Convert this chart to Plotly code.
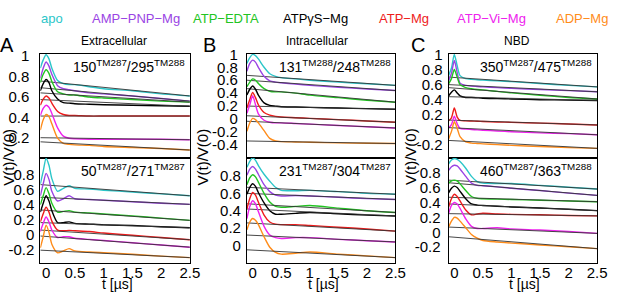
import plotly.graph_objects as go

W, H = 617, 292

species = ["apo", "AMP−PNP−Mg", "ATP−EDTA", "ATPγS−Mg", "ATP−Mg", "ATP−Vi−Mg", "ADP−Mg"]
colors = ["#2cc6c9", "#9a44e4", "#22c422", "#000000", "#ee1c1c", "#ee22ee", "#ff8c1a"]

# time samples (µs) for the data traces; fits given at start/end
t = [-0.1, -0.05, 0, 0.05, 0.1, 0.2, 0.3, 0.4, 0.5, 0.75, 1.0, 1.5, 2.0, 2.5]
t_fit = [-0.1, 2.5]

# ---- Panel A, top: 150TM287/295TM288 ----
a_top = [
    [0.88, 0.96, 1.01, 0.97, 0.88, 0.76, 0.73, 0.72, 0.72, 0.70, 0.68, 0.66, 0.63, 0.61],
    [0.78, 0.88, 0.94, 0.90, 0.82, 0.71, 0.68, 0.67, 0.66, 0.64, 0.63, 0.61, 0.585, 0.56],
    [0.74, 0.82, 0.865, 0.83, 0.75, 0.65, 0.63, 0.62, 0.62, 0.60, 0.59, 0.575, 0.56, 0.55],
    [0.66, 0.73, 0.77, 0.74, 0.66, 0.58, 0.545, 0.54, 0.535, 0.53, 0.525, 0.52, 0.515, 0.51],
    [0.52, 0.58, 0.61, 0.59, 0.54, 0.46, 0.43, 0.42, 0.42, 0.415, 0.415, 0.415, 0.415, 0.415],
    [0.42, 0.49, 0.52, 0.50, 0.44, 0.30, 0.22, 0.20, 0.195, 0.19, 0.19, 0.19, 0.19, 0.185],
    [0.28, 0.38, 0.43, 0.41, 0.34, 0.20, 0.15, 0.14, 0.135, 0.13, 0.12, 0.11, 0.10, 0.085],
]
a_top_fit = [[0.755, 0.61], [0.69, 0.56], [0.64, 0.55], [0.575, 0.51], [0.415, 0.415], [0.205, 0.185], [0.165, 0.085]]

# ---- Panel A, bottom: 50TM287/271TM287 ----
a_bot = [
    [0.68, 0.85, 1.02, 0.93, 0.75, 0.58, 0.62, 0.655, 0.62, 0.61, 0.595, 0.57, 0.545, 0.52],
    [0.52, 0.68, 0.82, 0.74, 0.58, 0.45, 0.48, 0.52, 0.48, 0.47, 0.46, 0.44, 0.42, 0.405],
    [0.40, 0.52, 0.63, 0.55, 0.42, 0.30, 0.31, 0.32, 0.30, 0.29, 0.275, 0.25, 0.22, 0.19],
    [0.30, 0.42, 0.52, 0.45, 0.32, 0.16, 0.16, 0.17, 0.15, 0.14, 0.13, 0.12, 0.105, 0.09],
    [0.17, 0.28, 0.365, 0.30, 0.18, 0.06, 0.05, 0.055, 0.05, 0.04, 0.02, -0.01, -0.04, -0.07],
    [0.04, 0.15, 0.235, 0.17, 0.06, -0.04, -0.03, -0.03, -0.05, -0.065, -0.08, -0.11, -0.14, -0.17],
    [-0.18, -0.03, 0.126, 0.03, -0.13, -0.245, -0.22, -0.19, -0.22, -0.235, -0.245, -0.265, -0.29, -0.31],
]
a_bot_fit = [[0.67, 0.52], [0.50, 0.405], [0.33, 0.19], [0.16, 0.09], [0.06, -0.07], [-0.02, -0.17], [-0.21, -0.31]]

# ---- Panel B, top: 131TM288/248TM288 ----
b_top = [
    [0.86, 0.95, 1.0, 0.98, 0.93, 0.80, 0.70, 0.66, 0.64, 0.62, 0.60, 0.57, 0.545, 0.52],
    [0.74, 0.86, 0.91, 0.88, 0.80, 0.66, 0.59, 0.57, 0.56, 0.54, 0.52, 0.49, 0.465, 0.44],
    [0.50, 0.57, 0.62, 0.60, 0.55, 0.47, 0.43, 0.42, 0.42, 0.40, 0.37, 0.33, 0.29, 0.26],
    [0.37, 0.46, 0.51, 0.46, 0.37, 0.25, 0.21, 0.20, 0.19, 0.185, 0.18, 0.17, 0.16, 0.15],
    [0.17, 0.30, 0.41, 0.33, 0.22, 0.10, 0.06, 0.04, 0.03, 0.02, 0.01, -0.01, -0.03, -0.05],
    [0.09, 0.22, 0.36, 0.22, 0.08, -0.02, -0.05, -0.06, -0.06, -0.07, -0.08, -0.10, -0.12, -0.14],
    [-0.19, -0.06, 0.01, -0.01, -0.06, -0.18, -0.30, -0.34, -0.35, -0.355, -0.36, -0.37, -0.375, -0.38],
]
b_top_fit = [[0.675, 0.52], [0.60, 0.44], [0.47, 0.26], [0.20, 0.15], [0.05, -0.05], [-0.035, -0.14], [-0.34, -0.38]]

# ---- Panel B, bottom: 231TM287/304TM287 ----
b_bot = [
    [0.90, 0.97, 1.01, 0.98, 0.92, 0.82, 0.74, 0.67, 0.635, 0.63, 0.635, 0.62, 0.60, 0.59],
    [0.81, 0.88, 0.91, 0.88, 0.82, 0.70, 0.62, 0.58, 0.57, 0.575, 0.57, 0.555, 0.54, 0.53],
    [0.70, 0.78, 0.815, 0.79, 0.73, 0.60, 0.50, 0.45, 0.44, 0.45, 0.46, 0.43, 0.40, 0.38],
    [0.59, 0.67, 0.71, 0.68, 0.61, 0.49, 0.40, 0.36, 0.36, 0.37, 0.38, 0.365, 0.35, 0.34],
    [0.42, 0.54, 0.61, 0.58, 0.50, 0.35, 0.27, 0.245, 0.24, 0.24, 0.23, 0.21, 0.19, 0.165],
    [0.31, 0.45, 0.515, 0.48, 0.39, 0.22, 0.12, 0.09, 0.08, 0.09, 0.09, 0.07, 0.055, 0.04],
    [0.18, 0.27, 0.31, 0.29, 0.24, 0.10, -0.02, -0.08, -0.10, -0.09, -0.075, -0.10, -0.12, -0.14],
]
b_bot_fit = [[0.67, 0.59], [0.60, 0.53], [0.48, 0.38], [0.42, 0.34], [0.26, 0.165], [0.12, 0.04], [-0.05, -0.14]]

# ---- Panel C, top: 350TM287/475TM288 ----
c_top = [
    [0.72, 0.82, 1.0, 0.85, 0.72, 0.68, 0.67, 0.665, 0.66, 0.65, 0.64, 0.615, 0.59, 0.57],
    [0.65, 0.75, 0.92, 0.76, 0.62, 0.59, 0.58, 0.575, 0.57, 0.56, 0.55, 0.535, 0.52, 0.505],
    [0.61, 0.68, 0.80, 0.70, 0.60, 0.56, 0.545, 0.535, 0.53, 0.51, 0.49, 0.46, 0.43, 0.41],
    [0.45, 0.50, 0.53, 0.49, 0.45, 0.43, 0.43, 0.425, 0.42, 0.415, 0.41, 0.40, 0.395, 0.39],
    [0.12, 0.16, 0.29, 0.17, 0.125, 0.12, 0.118, 0.115, 0.112, 0.105, 0.10, 0.09, 0.078, 0.065],
    [0.025, 0.07, 0.18, 0.08, 0.02, 0.01, 0.005, 0.0, -0.005, -0.015, -0.025, -0.04, -0.05, -0.065],
    [-0.12, -0.02, 0.107, 0.02, -0.09, -0.16, -0.175, -0.18, -0.185, -0.195, -0.205, -0.22, -0.235, -0.245],
]
c_top_fit = [[0.70, 0.57], [0.60, 0.505], [0.56, 0.41], [0.44, 0.39], [0.13, 0.065], [0.03, -0.065], [-0.14, -0.245]]

# ---- Panel C, bottom: 460TM287/363TM288 ----
c_bot = [
    [0.92, 0.97, 0.99, 0.98, 0.95, 0.86, 0.75, 0.68, 0.66, 0.655, 0.655, 0.63, 0.605, 0.58],
    [0.83, 0.88, 0.90, 0.89, 0.85, 0.75, 0.66, 0.63, 0.625, 0.61, 0.59, 0.56, 0.525, 0.495],
    [0.66, 0.69, 0.70, 0.69, 0.65, 0.56, 0.48, 0.455, 0.45, 0.445, 0.44, 0.43, 0.42, 0.41],
    [0.53, 0.59, 0.62, 0.60, 0.55, 0.45, 0.38, 0.365, 0.36, 0.35, 0.34, 0.325, 0.31, 0.29],
    [0.34, 0.45, 0.51, 0.48, 0.42, 0.30, 0.235, 0.245, 0.255, 0.245, 0.24, 0.235, 0.225, 0.22],
    [0.25, 0.36, 0.40, 0.38, 0.32, 0.18, 0.08, 0.05, 0.05, 0.06, 0.045, 0.03, 0.01, -0.015],
    [0.07, 0.15, 0.20, 0.19, 0.15, 0.06, -0.03, -0.08, -0.11, -0.13, -0.145, -0.17, -0.195, -0.22],
]
c_bot_fit = [[0.70, 0.58], [0.665, 0.495], [0.47, 0.41], [0.38, 0.29], [0.25, 0.22], [0.07, -0.015], [-0.06, -0.22]]

labels = [
    "150<sup>TM287</sup>/295<sup>TM288</sup>",
    "50<sup>TM287</sup>/271<sup>TM287</sup>",
    "131<sup>TM288</sup>/248<sup>TM288</sup>",
    "231<sup>TM287</sup>/304<sup>TM287</sup>",
    "350<sup>TM287</sup>/475<sup>TM288</sup>",
    "460<sup>TM287</sup>/363<sup>TM288</sup>",
]
x_ticks = [0, 0.5, 1, 1.5, 2, 2.5]
x_ticktext = ["0", "0.5", "1", "1.5", "2", "2.5"]

FONT = "Liberation Sans, Arial, sans-serif"

# pixel geometry
cols_px = [(41, 193), (251, 402), (456, 607)]
rows_px = [(47, 154), (154, 262)]
yranges = [[0.01, 1.02], [-0.38, 1.03], [-0.6, 1.01], [-0.2, 1.01], [-0.37, 1.01], [-0.41, 1.0]]
yticks = [
    [0.2, 0.4, 0.6, 0.8, 1],
    [-0.2, 0, 0.2, 0.4, 0.6, 0.8],
    [-0.4, -0.2, 0, 0.2, 0.4, 0.6, 0.8, 1],
    [0, 0.2, 0.4, 0.6, 0.8],
    [-0.2, 0, 0.2, 0.4, 0.6, 0.8, 1],
    [-0.2, 0, 0.2, 0.4, 0.6, 0.8],
]
standoff = [7, 2, 5, 2, 2, 4]
datasets = [(a_top, a_top_fit), (a_bot, a_bot_fit), (b_top, b_top_fit),
            (b_bot, b_bot_fit), (c_top, c_top_fit), (c_bot, c_bot_fit)]


def fmt(v):
    if v == 1:
        return "1"
    if v == 0:
        return "0"
    return ("%g" % v)


fig = go.Figure()
layout = dict(width=W, height=H, autosize=False, margin=dict(l=0, r=0, t=0, b=0),
              paper_bgcolor="white", plot_bgcolor="white", showlegend=False,
              font=dict(family=FONT, size=15, color="black"))
annotations = []

for i, (data, fits) in enumerate(datasets):
    c, r = i // 2, i % 2
    n = i + 1
    xa = "x" if n == 1 else "x%d" % n
    ya = "y" if n == 1 else "y%d" % n
    x0, x1 = cols_px[c]
    y0, y1 = rows_px[r]
    for k in range(7):
        fig.add_trace(go.Scatter(x=t, y=data[k], mode="lines", xaxis=xa, yaxis=ya,
                                 line=dict(color=colors[k], width=1.4, shape="spline", smoothing=0.7),
                                 hoverinfo="skip"))
        fig.add_trace(go.Scatter(x=t_fit, y=fits[k], mode="lines", xaxis=xa, yaxis=ya,
                                 line=dict(color="#333333", width=0.9), hoverinfo="skip"))
    layout["xaxis" + ("" if n == 1 else str(n))] = dict(
        domain=[x0 / W, x1 / W], range=[-0.1, 2.5], anchor=ya,
        showline=True, mirror=True, linecolor="black", linewidth=1,
        showgrid=False, zeroline=False, ticks="",
        tickvals=x_ticks, ticktext=x_ticktext, showticklabels=(r == 1),
        ticklabelstandoff=-4, tickfont=dict(size=15))
    layout["yaxis" + ("" if n == 1 else str(n))] = dict(
        domain=[1 - y1 / H, 1 - y0 / H], range=yranges[i], anchor=xa,
        showline=True, mirror=True, linecolor="black", linewidth=1,
        showgrid=False, zeroline=False, ticks="",
        tickvals=yticks[i], ticktext=[fmt(v) for v in yticks[i]],
        ticklabelstandoff=standoff[i], tickfont=dict(size=15))
    annotations.append(dict(text=labels[i], xref="paper", yref="paper",
                            x=(x1 - 3) / W, y=1 - (y0 + 13) / H, xanchor="right", yanchor="middle",
                            showarrow=False, font=dict(size=14)))
    if r == 1:
        annotations.append(dict(text="t [µs]", xref="paper", yref="paper",
                                x=((x0 + x1) / 2 + 2) / W, y=1 - 283.5 / H, xanchor="center", yanchor="middle",
                                showarrow=False, font=dict(size=14)))

# y-axis titles
for xp in [9, 206, 418]:
    annotations.append(dict(text="V(t)/V(0)", xref="paper", yref="paper", x=xp / W, y=1 - 153 / H,
                            xanchor="center", yanchor="middle", textangle=-90, showarrow=False,
                            font=dict(size=15)))

# panel letters and titles
for txt, xp in [("A", 7), ("B", 213), ("C", 425)]:
    annotations.append(dict(text=txt, xref="paper", yref="paper", x=xp / W, y=1 - 38 / H,
                            xanchor="center", yanchor="middle", showarrow=False, font=dict(size=20)))
for txt, xp in [("Extracellular", 116), ("Intracellular", 322), ("NBD", 526)]:
    annotations.append(dict(text=txt, xref="paper", yref="paper", x=xp / W, y=1 - 34 / H,
                            xanchor="center", yanchor="middle", showarrow=False, font=dict(size=12)))

# top colour key
key_x = [53, 138, 230, 321, 411, 500, 592]
for name, col, xp in zip(species, colors, key_x):
    annotations.append(dict(text=name, xref="paper", yref="paper", x=xp / W, y=1 - 11 / H,
                            xanchor="center", yanchor="middle", showarrow=False,
                            font=dict(size=13, color=col)))

layout["annotations"] = annotations
fig.update_layout(**layout)
fig.write_html("out.html", config={"displayModeBar": False},
               post_script="document.body.style.margin='0px';")
